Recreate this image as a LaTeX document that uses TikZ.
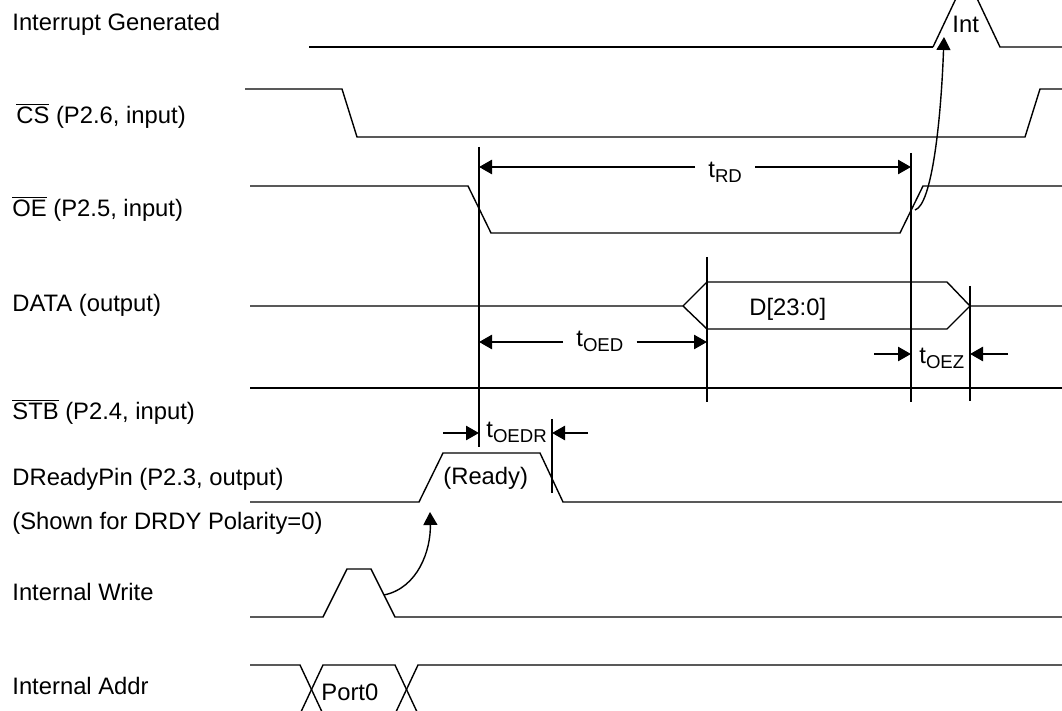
\documentclass[tikz,border=0pt]{standalone}
\usepackage{fontspec}
\setmainfont{Liberation Sans}
\usetikzlibrary{arrows.meta}
\newcommand{\tsub}[1]{t\raisebox{-2.5pt}{\fontsize{9.3}{10}\selectfont #1}}
\newcommand{\ovl}[1]{$\overline{\mbox{#1}}$}

\begin{document}
\begin{tikzpicture}[x=0.5pt,y=-0.5pt,
    font=\fontsize{11.9}{14}\selectfont,
    wave/.style={line width=0.7pt},
    bold/.style={line width=1.3pt},
    dim/.style={line width=1.3pt,-{Triangle[length=6.5pt,width=7pt]}},
    cause/.style={line width=0.7pt,-{Triangle[length=6.5pt,width=7pt]}},
    lbl/.style={anchor=base west,inner sep=0pt},
    dlab/.style={anchor=base west,inner ysep=0pt,inner xsep=6.5pt}]
        \useasboundingbox (0,0) rectangle (1062,711);
        \clip (0,0) rectangle (1062,711);
        \foreach \n/\x/\y/\t in {%
          intgen/12/31/{Interrupt Generated},
          cs/16/124/{\ovl{CS} (P2.6, input)},
          oe/12/217/{\ovl{OE} (P2.5, input)},
          data/12/312/{DATA (output)},
          stb/12/420/{\ovl{STB} (P2.4, input)},
          drdy/12/486/{DReadyPin (P2.3, output)},
          pol/12/530/{(Shown for DRDY Polarity=0)},
          iwr/12/601/{Internal Write},
          iaddr/12/695/{Internal Addr}} {
            \node[lbl] (\n) at (\x,\y) {\t};
        }
        % waveforms
        \draw[bold] (309,47) -- (933,47);
        \draw[wave] (933,47) -- (960,-10) -- (973,-10) -- (1000,47) -- (1062,47);
        \draw[wave] (245,89) -- (342,89) -- (357,137) -- (1025,137) -- (1040,89) -- (1062,89);
        \draw[wave] (250,186) -- (468,186) -- (491,233) -- (900,233) -- (923,186) -- (1062,186);
        \draw[wave] (250,306) -- (683,306) -- (707,282) -- (947,282) -- (970,306) -- (1062,306);
        \draw[wave] (683,306) -- (707,329) -- (947,329) -- (970,306);
        \draw[bold] (250,388) -- (1062,388);
        \draw[wave] (250,502) -- (419,502) -- (443,453) -- (540,453) -- (563,502) -- (1062,502);
        \draw[wave] (250,617) -- (323,617) -- (347,569) -- (371,569) -- (395,617) -- (1062,617);
        \draw[wave] (250,665) -- (300,665) -- (323,714) -- (395,714) -- (418,665) -- (1062,665);
        \draw[wave] (250,714) -- (300,714) -- (323,665) -- (395,665) -- (418,714) -- (1062,714);
        \node[lbl] (int) at (952,33) {Int};
        \node[lbl] (dval) at (749,316) {D[23:0]};
        \node[lbl] (ready) at (443,485) {(Ready)};
        \node[lbl] (port) at (321,700) {Port0};
        % timing marks
        \draw[bold] (479,147) -- (479,447);
        \draw[bold] (911,153) -- (911,402);
        \draw[bold] (707,257) -- (707,402);
        \draw[bold] (970,286) -- (970,401);
        \draw[bold] (552,419) -- (552,493);
        \coordinate (rdL) at (479,167);
        \coordinate (rdR) at (911,167);
        \node[dlab] (trd) at (695,178) {\tsub{RD}};
        \draw[dim] (trd.west |- rdL) -- (rdL);
        \draw[dim] (trd.east |- rdR) -- (rdR);
        \coordinate (oedL) at (479,342);
        \coordinate (oedR) at (707,342);
        \node[dlab] (toed) at (563,347) {\tsub{OED}};
        \draw[dim] (toed.west |- oedL) -- (oedL);
        \draw[dim] (toed.east |- oedR) -- (oedR);
        \coordinate (oezA) at (874,354);
        \coordinate (oezL) at (911,354);
        \coordinate (oezB) at (1008,354);
        \coordinate (oezR) at (970,354);
        \node[lbl] (toez) at (919,364) {\tsub{OEZ}};
        \draw[dim] (oezA) -- (oezL);
        \draw[dim] (oezB) -- (oezR);
        \coordinate (oedrA) at (443,433);
        \coordinate (oedrL) at (479,433);
        \coordinate (oedrB) at (588,433);
        \coordinate (oedrR) at (552,433);
        \node[lbl] (toedr) at (486,438) {\tsub{OEDR}};
        \draw[dim] (oedrA) -- (oedrL);
        \draw[dim] (oedrB) -- (oedrR);
        % cause arrows
        \coordinate (intFrom) at (915,210);
        \coordinate (intTo) at (944,37);
        \draw[cause] (intFrom) .. controls (932,205) and (941,120) .. (intTo);
        \coordinate (rdyFrom) at (384,595);
        \coordinate (rdyTo) at (430,512);
        \draw[cause] (rdyFrom) .. controls (418,588) and (431,550) .. (rdyTo);
\end{tikzpicture}
\end{document}
